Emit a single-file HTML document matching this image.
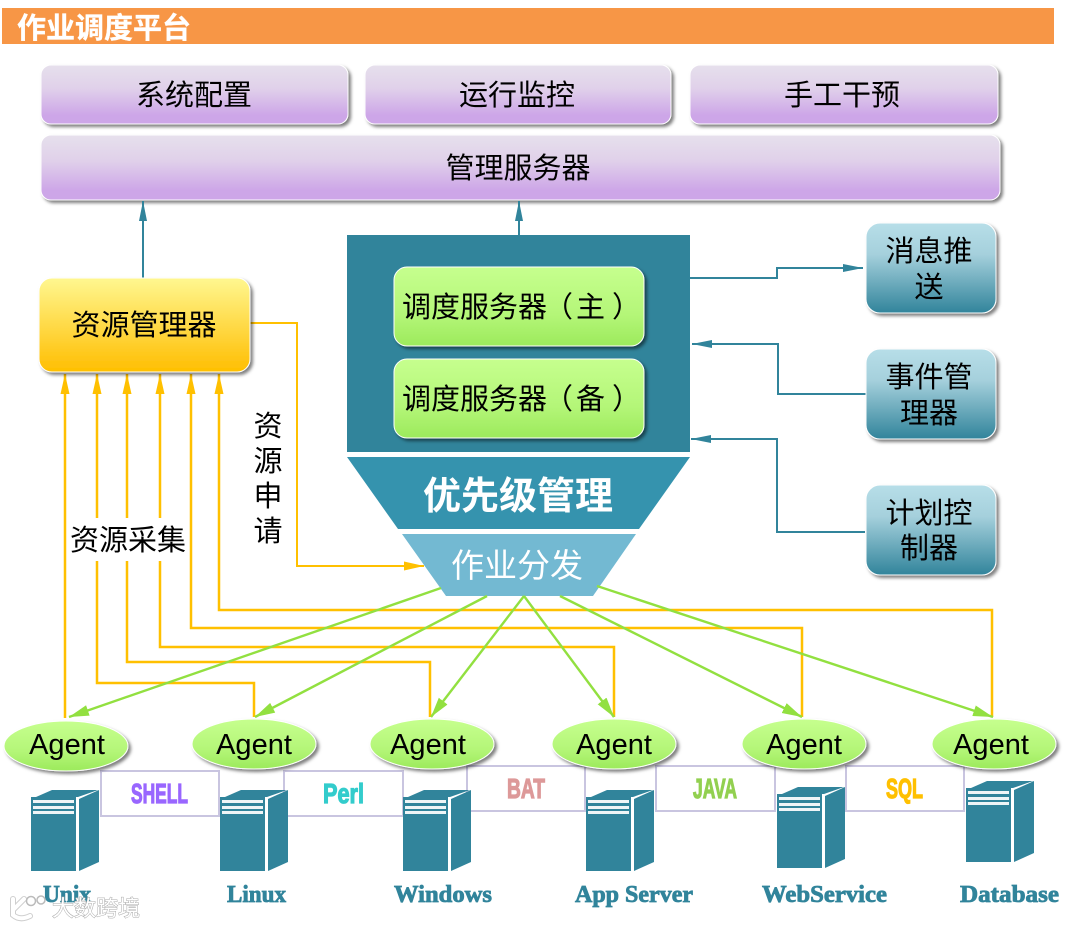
<!DOCTYPE html>
<html><head><meta charset="utf-8">
<style>
html,body{margin:0;padding:0;background:#fff;width:1078px;height:927px;overflow:hidden}
svg{display:block}
text{font-family:"Liberation Sans","Noto Sans CJK SC",sans-serif}
.c{font-size:29px;fill:#000;text-anchor:middle}
.a{font-family:"Liberation Sans",sans-serif;font-size:29px;fill:#000;text-anchor:middle}
.l{font-family:"Liberation Serif",serif;font-weight:bold;font-size:24px;fill:#31849b;stroke:#31849b;stroke-width:.8}
.p{font-weight:bold;font-size:28px;stroke-width:1.2}
.box{stroke:#fff;stroke-width:1;filter:url(#sh)}
</style></head><body>
<svg width="1078" height="927" viewBox="0 0 1078 927" xmlns="http://www.w3.org/2000/svg">
<defs>
<linearGradient id="pu" x1="0" y1="0" x2="0" y2="1"><stop offset="0" stop-color="#e6e0ec"/><stop offset=".4" stop-color="#e0d0ea"/><stop offset=".85" stop-color="#cda6e8"/><stop offset="1" stop-color="#cda6e8"/></linearGradient>
<linearGradient id="gr" x1="0" y1="0" x2="0" y2="1"><stop offset="0" stop-color="#c6ff8e"/><stop offset=".6" stop-color="#b4f678"/><stop offset="1" stop-color="#9cea5c"/></linearGradient>
<linearGradient id="ye" x1="0" y1="0" x2="0" y2="1"><stop offset="0" stop-color="#fff790"/><stop offset=".9" stop-color="#ffc30f"/><stop offset="1" stop-color="#ffc000"/></linearGradient>
<linearGradient id="bl" x1="0" y1="0" x2="0" y2="1"><stop offset="0" stop-color="#b7dee8"/><stop offset=".35" stop-color="#a5d0dc"/><stop offset="1" stop-color="#31849b"/></linearGradient>
<filter id="sh" x="-10%" y="-10%" width="125%" height="130%"><feDropShadow dx="2.5" dy="2.5" stdDeviation="1.5" flood-color="#000" flood-opacity=".5"/></filter>
<marker id="mt" markerWidth="20" markerHeight="10" refX="20" refY="5" orient="auto" markerUnits="userSpaceOnUse"><path d="M0 1L20 5L0 9Z" fill="#31849b"/></marker>
<marker id="my" markerWidth="20" markerHeight="10" refX="20" refY="5" orient="auto" markerUnits="userSpaceOnUse"><path d="M0 0.5L20 5L0 9.5Z" fill="#ffc000"/></marker>
<marker id="mg" markerWidth="20" markerHeight="12" refX="20" refY="6" orient="auto" markerUnits="userSpaceOnUse"><path d="M0 0.5L20 6L0 11.5Z" fill="#92e040"/></marker>
<g id="srv">
<rect x="0" y="7" width="45" height="74" fill="#31849b"/>
<path d="M5 7L21 0H67L47 7Z" fill="#31849b"/>
<path d="M48 9L68 0V72L48 81Z" fill="#31849b"/>
<path d="M2 10H43V13H2ZM2 16H43V19H2ZM2 21H43V24H2Z" fill="#fff" opacity=".92"/>
</g>
</defs>

<rect x="2" y="8" width="1052" height="36" fill="#f79646"/>
<text x="17" y="38" font-size="29" font-weight="bold" fill="#fff" stroke="#fff" stroke-width=".3">作业调度平台</text>

<rect class="box" x="41" y="65" width="307" height="59" rx="10" fill="url(#pu)"/>
<rect class="box" x="365" y="65" width="306" height="59" rx="10" fill="url(#pu)"/>
<rect class="box" x="690" y="65" width="308" height="59" rx="10" fill="url(#pu)"/>
<rect class="box" x="41" y="135" width="959" height="65" rx="10" fill="url(#pu)"/>
<text class="c" x="194" y="105">系统配置</text>
<text class="c" x="517" y="105">运行监控</text>
<text class="c" x="842" y="105">手工干预</text>
<text class="c" x="518" y="178">管理服务器</text>

<!-- teal connectors -->
<g fill="none" stroke="#31849b" stroke-width="2">
<path d="M143 278V201" marker-end="url(#mt)"/>
<path d="M519 236V201" marker-end="url(#mt)"/>
<path d="M690 278H777V268H863" marker-end="url(#mt)"/>
<path d="M866 394H778V344H692" marker-end="url(#mt)"/>
<path d="M865 532H777V439H691" marker-end="url(#mt)"/>
</g>

<rect x="347" y="235" width="343" height="217" fill="#31849b"/>
<rect class="box" x="394" y="267" width="250" height="79" rx="13" fill="url(#gr)"/>
<rect class="box" x="394" y="359" width="250" height="79" rx="13" fill="url(#gr)"/>
<text class="c" x="402" y="317" style="text-anchor:start">调度服务器<tspan dx="-3">（</tspan><tspan dx="3">主</tspan><tspan dx="7">）</tspan></text>
<text class="c" x="402" y="409" style="text-anchor:start">调度服务器<tspan dx="-3">（</tspan><tspan dx="3">备</tspan><tspan dx="7">）</tspan></text>
<polygon points="347,457 690,457 639,529 398,529" fill="#3593ae"/>
<polygon points="402,534 636,534 593,596 446,596" fill="#73b9d2"/>
<text x="518" y="509" font-size="38" font-weight="bold" fill="#fff" text-anchor="middle">优先级管理</text>
<text x="517" y="577" font-size="33" fill="#fff" text-anchor="middle">作业分发</text>

<rect class="box" x="866" y="223" width="130" height="90" rx="14" fill="url(#bl)"/>
<rect class="box" x="866" y="349" width="130" height="90" rx="14" fill="url(#bl)"/>
<rect class="box" x="866" y="485" width="130" height="90" rx="14" fill="url(#bl)"/>
<text class="c" x="929" y="261">消息推</text><text class="c" x="929" y="297">送</text>
<text class="c" x="929" y="387">事件管</text><text class="c" x="929" y="423">理器</text>
<text class="c" x="929" y="523">计划控</text><text class="c" x="929" y="558">制器</text>

<!-- yellow connectors -->
<g fill="none" stroke="#ffc000" stroke-width="2.5">
<path d="M65 718V374" marker-end="url(#my)"/>
<path d="M254 717V683H97V374" marker-end="url(#my)"/>
<path d="M430 717V662H127V374" marker-end="url(#my)"/>
<path d="M614 717V647H160V374" marker-end="url(#my)"/>
<path d="M802 717V628H191V374" marker-end="url(#my)"/>
<path d="M992 717V610H219V374" marker-end="url(#my)"/>
<path d="M250 323H297V566H424" marker-end="url(#my)" stroke-width="2"/>
</g>
<rect class="box" x="39" y="278" width="211" height="94" rx="13" fill="url(#ye)"/>
<text class="c" x="144" y="335">资源管理器</text>

<rect x="70" y="518" width="117" height="43" fill="#fff"/>
<text class="c" x="128" y="550">资源采集</text>
<text class="c" x="268" y="436">资</text>
<text class="c" x="268" y="471">源</text>
<text class="c" x="268" y="506">申</text>
<text class="c" x="268" y="541">请</text>

<!-- green connectors -->
<g fill="none" stroke="#92e040" stroke-width="2.4">
<path d="M441 588L69 717" marker-end="url(#mg)"/>
<path d="M487 596L255 717" marker-end="url(#mg)"/>
<path d="M524 596L431 717" marker-end="url(#mg)"/>
<path d="M524 596L614 717" marker-end="url(#mg)"/>
<path d="M560 596L802 717" marker-end="url(#mg)"/>
<path d="M597 586L993 717" marker-end="url(#mg)"/>
</g>

<!-- lavender link boxes -->
<g fill="none" stroke="#c9c5e0" stroke-width="2">
<rect x="101" y="771" width="118" height="45"/>
<rect x="284" y="771" width="119" height="45"/>
<rect x="467" y="766" width="118" height="45"/>
<rect x="656" y="766" width="119" height="45"/>
<rect x="846" y="766" width="118" height="45"/>
</g>
<text class="p" x="131" y="803" textLength="57" lengthAdjust="spacingAndGlyphs" fill="#9966ff" stroke="#9966ff">SHELL</text>
<text class="p" x="323" y="803" textLength="41" lengthAdjust="spacingAndGlyphs" fill="#33cccc" stroke="#33cccc">Perl</text>
<text class="p" x="507" y="798" textLength="38" lengthAdjust="spacingAndGlyphs" fill="#dd9999" stroke="#dd9999">BAT</text>
<text class="p" x="693" y="798" textLength="44" lengthAdjust="spacingAndGlyphs" fill="#92d050" stroke="#92d050">JAVA</text>
<text class="p" x="886" y="798" textLength="37" lengthAdjust="spacingAndGlyphs" fill="#ffc000" stroke="#ffc000">SQL</text>

<!-- servers -->
<use href="#srv" x="31" y="790"/>
<use href="#srv" x="220" y="790"/>
<use href="#srv" x="403" y="790"/>
<use href="#srv" x="586" y="790"/>
<use href="#srv" x="777" y="787"/>
<use href="#srv" x="966" y="781"/>

<!-- agents -->
<g fill="url(#gr)" stroke="#fff" stroke-width="1" filter="url(#sh)">
<ellipse cx="66" cy="746" rx="62" ry="25"/>
<ellipse cx="254" cy="744" rx="62" ry="25"/>
<ellipse cx="432" cy="744" rx="62" ry="25"/>
<ellipse cx="614" cy="744" rx="62" ry="25"/>
<ellipse cx="804" cy="744" rx="62" ry="25"/>
<ellipse cx="994" cy="744" rx="62" ry="25"/>
</g>
<text class="a" x="67" y="754">Agent</text>
<text class="a" x="254" y="754">Agent</text>
<text class="a" x="428" y="754">Agent</text>
<text class="a" x="614" y="754">Agent</text>
<text class="a" x="804" y="754">Agent</text>
<text class="a" x="991" y="754">Agent</text>

<text class="l" x="43" y="902" textLength="48" lengthAdjust="spacingAndGlyphs">Unix</text>
<text class="l" x="227" y="902" textLength="59" lengthAdjust="spacingAndGlyphs">Linux</text>
<text class="l" x="394" y="902" textLength="98" lengthAdjust="spacingAndGlyphs">Windows</text>
<text class="l" x="575" y="902" textLength="118" lengthAdjust="spacingAndGlyphs">App Server</text>
<text class="l" x="762" y="902" textLength="125" lengthAdjust="spacingAndGlyphs">WebService</text>
<text class="l" x="960" y="902" textLength="99" lengthAdjust="spacingAndGlyphs">Database</text>

<!-- watermark -->
<g>
<path d="M13 899V915Q20 921 30 916M13 910L24 899" fill="none" stroke="#bbb" stroke-width="6" stroke-linecap="round" opacity=".7"/>
<path d="M13 899V915Q20 921 30 916M13 910L24 899" fill="none" stroke="#fff" stroke-width="4" stroke-linecap="round"/>
<circle cx="31" cy="901" r="4.5" fill="#fff" fill-opacity=".5" stroke="#bbb" stroke-width="1.5"/>
<circle cx="41" cy="900" r="4" fill="#fff" fill-opacity=".5" stroke="#bbb" stroke-width="1.5"/>
<text x="52" y="916" font-size="22" fill="#fff" stroke="#aaa" stroke-width="1" paint-order="stroke">大数跨境</text>
</g>
</svg>
</body></html>
